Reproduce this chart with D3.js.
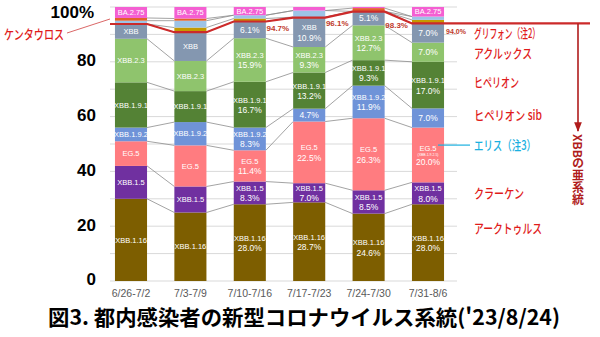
<!DOCTYPE html>
<html lang="ja">
<head>
<meta charset="utf-8">
<style type="text/css">
    body { margin: 0; background: #fff; }
    svg { display: block; }
    .grid { stroke: #d9d9d9; stroke-width: 1px; }
    .conn { stroke: #8c8c8c; stroke-width: .8px; fill: none; }
    .seg text { fill: #fff; font-family: "Liberation Sans", Arial, sans-serif; text-anchor: middle; }
    .ann { font-family: "Noto Sans CJK JP", sans-serif; font-size: 13px; font-weight: 500; fill: #e01b1b; }
</style>
</head>
<body>
<svg width="600" height="337"></svg>

<script src="https://cdn.jsdelivr.net/npm/d3@7"></script>
<script type="text/javascript">

// weekly share (%) of each lineage, bottom to top of the stack
var weeks   = ["6/26-7/2", "7/3-7/9", "7/10-7/16", "7/17-7/23", "7/24-7/30", "7/31-8/6"];
var xbb116  = [30.0, 25.0, 28.0, 28.7, 24.6, 28.0];
var xbb15   = [12.0,  9.5,  8.3,  7.0,  8.5,  8.0];
var eg5     = [ 9.0, 15.0, 11.4, 22.5, 26.3, 20.0];
var xbb192  = [ 5.0,  8.5,  8.3,  4.7, 11.9,  7.0];
var xbb191  = [16.5, 11.3, 16.7, 13.2,  9.3, 17.0];
var xbb23   = [15.9, 11.0, 15.9,  9.3, 12.7,  7.0];
var xbb     = [ 5.4, 10.5,  6.1, 10.9,  5.1,  7.0];
var bn1     = [ 0.0,  1.7,  1.1,  0.0,  0.0,  1.3];
var ch11    = [ 1.2,  2.5,  1.2,  2.4,  0.0,  1.2];
var other   = [ 1.0,  0.8,  0.0,  0.0,  1.2,  0.0];
var ba275   = [ 4.0,  4.2,  3.0,  1.3,  0.4,  3.5];
// XBB lineage total (red line)
var xbbTotal = [93.8, 90.8, 94.7, 96.1, 98.3, 94.0];

var yTicks = [0, 20, 40, 60, 80, 100];

var keys   = ["XBB.1.16", "XBB.1.5", "EG.5", "XBB.1.9.2", "XBB.1.9.1", "XBB.2.3", "XBB", "BN.1", "CH.1.1", "other", "BA.2.75"];
var series = [xbb116, xbb15, eg5, xbb192, xbb191, xbb23, xbb, bn1, ch11, other, ba275];
var colors = ["#7d5e00", "#7030a0", "#ff7c80", "#6f93d8", "#548235", "#8fc46d", "#8497b0", "#c49a00", "#9dc3e6", "#e2622a", "#f45fd2"];

// labels drawn in the segments
var named   = 7;                       // first 7 keys get labels
var noName  = [[2, 6], [3, 3], [4, 6], [5, 6], [5, 5], [5, 3]];   // [week, key] showing % only
var pctFrom = 2;                       // % shown from the 3rd week on
var baLabel = [0, 1, 2, 5];            // weeks with a BA.2.75 tag

// right-hand names, anchored at a % height, with their printed widths
var annNames = ["グリフォン（注2）", "アクルックス", "ヒペリオン", "ヒペリオン sib", "エリス（注3）", "クラーケン", "アークトゥルス"];
var annAt    = [90.5, 83.2, 72.6, 60.6, 49.6, 32.1, 19.0];
var annWidth = [66, 58, 45, 68, 62, 50, 68];

var table = weeks.map(function (w, i) {
    var row = { week: w };
    keys.forEach(function (k, j) { row[k] = series[j][i]; });
    return row;
});

var svg = d3.select("svg");

var x = d3.scaleBand().domain(weeks).range([101.3, 457.7]).paddingInner(0.46).paddingOuter(0.23);
var y = d3.scaleLinear().domain([0, 100]).range([281, 7]);

var stack = d3.stack().keys(keys)(table);

// grid
svg.append("g").selectAll("line")
    .data(d3.range(0, 101, 10))
    .enter().append("line")
    .attr("class", "grid")
    .attr("x1", 110).attr("x2", 457)
    .attr("y1", function (d) { return y(d); })
    .attr("y2", function (d) { return y(d); });

// connectors between bars
var conn = svg.append("g");
stack.slice(0, keys.length - 1).forEach(function (s) {
    for (var i = 0; i < weeks.length - 1; i++) {
        conn.append("line").attr("class", "conn")
            .attr("x1", x(weeks[i]) + x.bandwidth())
            .attr("y1", y(s[i][1]))
            .attr("x2", x(weeks[i + 1]))
            .attr("y2", y(s[i + 1][1]));
    }
});

// bars
var layer = svg.append("g").selectAll("g")
    .data(stack)
    .enter().append("g")
    .attr("fill", function (d, i) { return colors[i]; });

layer.selectAll("rect")
    .data(function (d) { return d; })
    .enter().append("rect")
    .attr("x", function (d) { return x(d.data.week); })
    .attr("width", x.bandwidth())
    .attr("y", function (d) { return y(d[1]); })
    .attr("height", function (d) { return y(d[0]) - y(d[1]); });

// segment labels
var seg = svg.append("g").attr("class", "seg");
stack.slice(0, named).forEach(function (s, k) {
    s.forEach(function (d, i) {
        var cx = x(weeks[i]) + x.bandwidth() / 2;
        var cy = (y(d[0]) + y(d[1])) / 2;
        var showPct = i >= pctFrom;
        var showName = !noName.some(function (p) { return p[0] === i && p[1] === k; });
        if (showPct && showName) {
            var sub = (k === 2 && i === 5);
            seg.append("text").attr("x", cx).attr("y", cy - (sub ? 6.5 : 4.5)).attr("dy", "0.35em")
                .attr("font-size", 7.5).text(keys[k]);
            seg.append("text").attr("x", cx).attr("y", cy + (sub ? 7 : 5.5)).attr("dy", "0.35em")
                .attr("font-size", 8.5).text(series[k][i].toFixed(1) + "%");
            if (sub) {
                seg.append("text").attr("x", cx).attr("y", cy - 0.5).attr("dy", "0.35em")
                    .attr("font-size", 3.5).text("(XBB.1.9.2.5)");
            }
        } else if (showPct) {
            seg.append("text").attr("x", cx).attr("y", cy).attr("dy", "0.35em")
                .attr("font-size", 8.5).text(series[k][i].toFixed(1) + "%");
        } else {
            seg.append("text").attr("x", cx).attr("y", cy).attr("dy", "0.35em")
                .attr("font-size", 7.5).text(keys[k]);
        }
    });
});
var baS = stack[keys.length - 1];
baLabel.forEach(function (i) {
    var d = baS[i];
    seg.append("text")
        .attr("x", x(weeks[i]) + x.bandwidth() / 2)
        .attr("y", Math.max((y(d[0]) + y(d[1])) / 2, 11.5))
        .attr("dy", "0.35em").attr("font-size", 7.5).text("BA.2.75");
});

// red XBB total line
var pts = [[110, y(xbbTotal[0])]];
xbbTotal.forEach(function (v, i) {
    pts.push([x(weeks[i]), y(v)]);
    pts.push([x(weeks[i]) + x.bandwidth(), y(v)]);
});
pts.push([590, y(xbbTotal[xbbTotal.length - 1])]);
svg.append("path")
    .attr("d", d3.line()(pts))
    .attr("fill", "none").attr("stroke", "#cc2a2a").attr("stroke-width", 2.2);

// total labels (3rd week on)
xbbTotal.forEach(function (v, i) {
    if (i < pctFrom) return;
    var lx = x(weeks[i]) + x.bandwidth() + 12;
    var ly = y(v);
    if (i < weeks.length - 1) {
        var x0 = x(weeks[i]) + x.bandwidth(), x1 = x(weeks[i + 1]);
        ly = y(v) + (y(xbbTotal[i + 1]) - y(v)) * (lx - x0) / (x1 - x0);
    }
    svg.append("text")
        .attr("x", lx).attr("y", ly + 8.5).attr("dy", "0.35em")
        .attr("text-anchor", "middle")
        .attr("font-family", "Liberation Sans, Arial, sans-serif")
        .attr("font-weight", "bold")
        .attr("font-size", i === weeks.length - 1 ? 7 : 8)
        .attr("fill", "#c0392b")
        .text(v.toFixed(1) + "%");
});

// arrow + vertical caption
svg.append("defs").append("marker")
    .attr("id", "ah").attr("viewBox", "0 -5 10 10")
    .attr("refX", 9).attr("refY", 0)
    .attr("markerWidth", 6).attr("markerHeight", 6).attr("orient", "auto")
    .append("path").attr("d", "M0,-4L10,0L0,4").attr("fill", "#b01c1c");
svg.append("line")
    .attr("x1", 578).attr("x2", 578)
    .attr("y1", y(xbbTotal[xbbTotal.length - 1])).attr("y2", 131)
    .attr("stroke", "#b01c1c").attr("stroke-width", 1.6)
    .attr("marker-end", "url(#ah)");
svg.append("text")
    .attr("x", 578).attr("y", 134)
    .style("writing-mode", "vertical-rl")
    .attr("font-family", "Noto Sans CJK JP, sans-serif")
    .attr("font-weight", "bold").attr("font-size", 12)
    .attr("fill", "#b01c1c")
    .text("XBBの亜系統");

// right-hand names
annNames.forEach(function (n, i) {
    svg.append("text").attr("class", "ann")
        .attr("x", 474).attr("y", y(annAt[i])).attr("dy", "0.35em")
        .attr("textLength", annWidth[i]).attr("lengthAdjust", "spacingAndGlyphs")
        .style("fill", i === 4 ? "#1ab0e0" : null)
        .text(n);
});
svg.append("line")
    .attr("x1", 438).attr("x2", 470)
    .attr("y1", y(annAt[4])).attr("y2", y(annAt[4]))
    .attr("stroke", "#1ab0e0").attr("stroke-width", 1.2);

// ケンタウロス
svg.append("text").attr("class", "ann")
    .attr("x", 4).attr("y", 34).attr("dy", "0.35em")
    .attr("textLength", 60).attr("lengthAdjust", "spacingAndGlyphs")
    .text("ケンタウロス");
svg.append("line")
    .attr("x1", 67).attr("y1", 33).attr("x2", 110).attr("y2", 19)
    .attr("stroke", "#d04040").attr("stroke-width", 0.8);

// y axis
var yAxis = svg.append("g")
    .attr("transform", "translate(96,0)")
    .call(d3.axisLeft(y).tickValues(yTicks).tickSize(0).tickPadding(0)
        .tickFormat(function (d) { return d === 100 ? "100%" : d; }));
yAxis.select(".domain").remove();
yAxis.selectAll("text")
    .attr("font-family", "Liberation Sans, Arial, sans-serif")
    .attr("font-weight", "bold").attr("font-size", 17).attr("fill", "#000")
    .attr("y", function (d) { return d === 100 ? 5 : -1.5; })
    .attr("x", function (d) { return d === 100 ? -2 : 0; });

// x axis
var xAxis = svg.append("g")
    .attr("transform", "translate(0,281)")
    .call(d3.axisBottom(x).tickSize(0).tickPadding(9));
xAxis.select(".domain").remove();
xAxis.selectAll("text")
    .attr("font-family", "Liberation Sans Narrow, Arial Narrow, sans-serif")
    .attr("font-size", 10.5).attr("fill", "#595959");

// title
svg.append("text")
    .attr("x", 48).attr("y", 318).attr("dy", "0.35em")
    .attr("font-family", "Noto Sans CJK JP, sans-serif")
    .attr("font-weight", "bold").attr("font-size", 21)
    .attr("textLength", 512).attr("lengthAdjust", "spacingAndGlyphs")
    .attr("fill", "#000")
    .text("図3. 都内感染者の新型コロナウイルス系統('23/8/24)");

</script>
</body>
</html>
